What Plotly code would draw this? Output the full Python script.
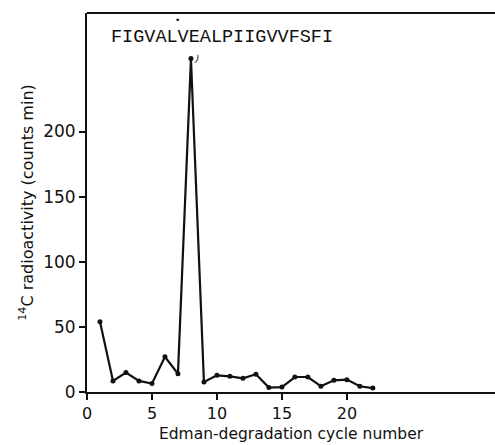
import plotly.graph_objects as go

cycles = list(range(1, 23))
counts = [54, 8.5, 15, 8.5, 6.5, 27, 14, 256, 7.7, 12.8, 12, 10.5, 13.6, 3.4, 3.8,
          11.5, 11.5, 4.4, 9, 9.5, 4.4, 3]
x_ticks = [0, 5, 10, 15, 20]
y_ticks = [0, 50, 100, 150, 200]
sequence = "FIGVALVEALPIIGVVFSFI"

fig = go.Figure()
fig.add_trace(go.Scatter(
    x=cycles, y=counts, mode="lines+markers",
    line=dict(color="#111", width=2.2),
    marker=dict(color="#111", size=5),
    showlegend=False, cliponaxis=False,
))

fig.add_annotation(x=1.7, y=272, xref="x", yref="y", text=sequence,
                   showarrow=False, xanchor="left", yanchor="middle",
                   font=dict(family="Liberation Mono", size=18.5, color="#111"))
fig.add_annotation(x=7.0, y=286, xref="x", yref="y", text="•",
                   showarrow=False, font=dict(family="DejaVu Sans", size=9, color="#111"))
fig.add_annotation(x=8.45, y=256, xref="x", yref="y", text=")",
                   showarrow=False, textangle=20,
                   font=dict(family="DejaVu Sans", size=10, color="#111"))

fig.add_shape(type="line", xref="paper", yref="paper", x0=0, x1=1, y0=1, y1=1,
              line=dict(color="#111", width=2))

fig.update_layout(
    width=495, height=445,
    margin=dict(l=87, r=0, t=13, b=53),
    paper_bgcolor="white", plot_bgcolor="white",
    xaxis=dict(range=[0, 31.4], tickvals=x_ticks, ticks="outside", ticklen=6,
               tickwidth=2, tickcolor="#111", showline=True, linecolor="#111",
               linewidth=2, showgrid=False, zeroline=False, automargin=False,
               tickfont=dict(family="DejaVu Sans", size=16, color="#111"),
               title=dict(text="Edman-degradation cycle number", standoff=6,
                          font=dict(family="DejaVu Sans", size=15.5, color="#111"))),
    yaxis=dict(range=[0, 291], tickvals=y_ticks, ticks="outside", ticklen=6,
               tickwidth=2, tickcolor="#111", showline=True, linecolor="#111",
               linewidth=2, showgrid=False, zeroline=False, automargin=False,
               tickfont=dict(family="DejaVu Sans", size=17, color="#111"),
               title=dict(text="<sup>14</sup>C radioactivity (counts min)", standoff=6,
                          font=dict(family="DejaVu Sans", size=16, color="#111"))),
)
fig.write_html("out.html", config={"staticPlot": True})
